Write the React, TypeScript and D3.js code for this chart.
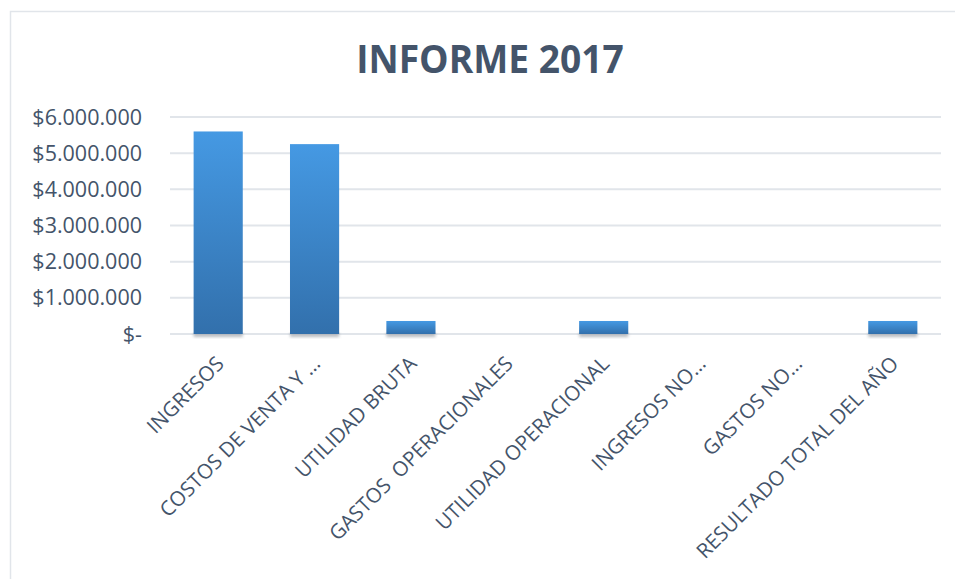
import React from "react";
import * as d3 from "d3";

const categories = [
  "INGRESOS",
  "COSTOS DE VENTA Y …",
  "UTILIDAD BRUTA",
  "GASTOS  OPERACIONALES",
  "UTILIDAD OPERACIONAL",
  "INGRESOS NO…",
  "GASTOS NO…",
  "RESULTADO TOTAL DEL AÑO",
];
const values = [5600000, 5250000, 360000, 0, 360000, 0, 0, 360000];
const yTicks = [0, 1000000, 2000000, 3000000, 4000000, 5000000, 6000000];
const title = "INFORME 2017";

const W = 955;
const H = 579;
const M = { left: 170, right: 14, top: 117, bottom: 245 };
const TEXT = "#44546A";
const FONT = "'Open Sans', 'Liberation Sans', sans-serif";

function fmt(v: number) {
  if (v === 0) return "$-";
  const s = d3.format(",")(v).replace(/,/g, ".");
  return "$" + s;
}

export default function App() {
  const x = d3
    .scaleBand<string>()
    .domain(categories)
    .range([M.left, W - M.right])
    .paddingInner(0.49)
    .paddingOuter(0.245);
  const y = d3.scaleLinear().domain([0, 6000000]).range([H - M.bottom, M.top]);
  const base = y(0);

  return (
    <svg
      width={W}
      height={H}
      style={{ position: "absolute", left: 0, top: 0, background: "#fff" }}
      fontFamily={FONT}
    >
      <defs>
        <linearGradient id="barGrad" x1="0" y1="0" x2="0" y2="1">
          <stop offset="0%" stopColor="#4599E3" />
          <stop offset="100%" stopColor="#3270AC" />
        </linearGradient>
        <filter id="shadow" x="-20%" y="-20%" width="140%" height="160%">
          <feGaussianBlur stdDeviation="1.5" />
        </filter>
      </defs>
      <rect x={10.5} y={11.5} width={W} height={H} fill="#fff" stroke="#E1E5EA" strokeWidth={1.5} />
      <text
        transform="translate(490,73) scale(0.93,1)"
        textAnchor="middle"
        fontSize={40}
        fontWeight="bold"
        fill={TEXT}
      >
        {title}
      </text>
      {yTicks.map((t) => (
        <g key={t}>
          <line
            x1={M.left}
            x2={W - M.right}
            y1={y(t)}
            y2={y(t)}
            stroke="#E1E5EA"
            strokeWidth={2}
          />
          <text
            x={142}
            y={y(t)}
            dy="0.35em"
            textAnchor="end"
            fontSize={21.5}
            fill={TEXT}
          >
            {fmt(t)}
          </text>
        </g>
      ))}
      {categories.map((c, i) => {
        const v = values[i];
        const bx = x(c)!;
        const bw = x.bandwidth();
        const top = y(v);
        return (
          <g key={c}>
            {v > 0 && (
              <>
                <rect
                  x={bx}
                  y={base - 1}
                  width={bw}
                  height={4}
                  fill="#8a8f96"
                  opacity={0.6}
                  filter="url(#shadow)"
                />
                <rect x={bx} y={top} width={bw} height={base - top} fill="url(#barGrad)" />
              </>
            )}
          </g>
        );
      })}
      {categories.map((c) => {
        const cx = x(c)! + x.bandwidth() / 2 + 7;
        const cy = base + 31;
        return (
          <text
            key={"l" + c}
            transform={`translate(${cx},${cy}) rotate(-45)`}
            textAnchor="end"
            fontSize={20.5}
            fill={TEXT}
            style={{ whiteSpace: "pre" }}
          >
            {c}
          </text>
        );
      })}
    </svg>
  );
}
